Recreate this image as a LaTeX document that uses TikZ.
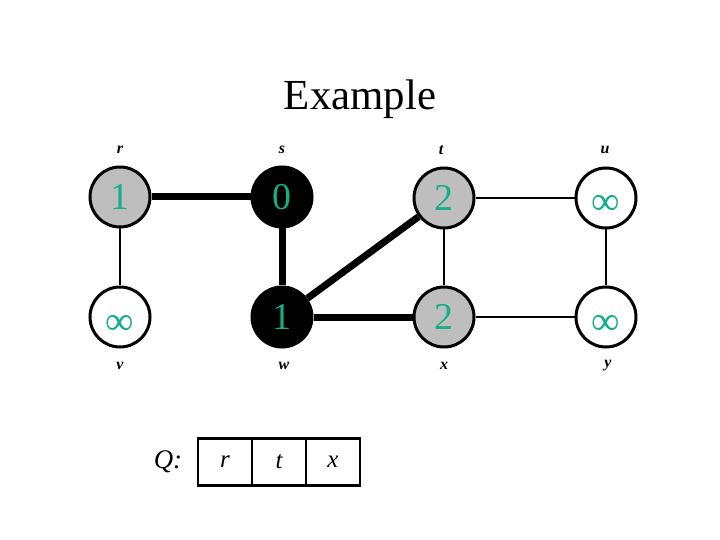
\documentclass[tikz,border=0pt]{standalone}
\usepackage{fontspec}
\setmainfont{Liberation Serif}
\definecolor{numcol}{RGB}{20,175,135}
\definecolor{nodegray}{RGB}{190,190,190}
\newcommand{\infsym}{\smash{\raisebox{-17bp}{\fontsize{40}{40}\selectfont ∞}}}
\tikzset{
  vert/.style={circle, draw=black, line width=3bp, minimum size=60bp, inner sep=0pt,
    text=numcol, font=\fontsize{38}{38}\selectfont},
  grayv/.style={vert, fill=nodegray},
  blackv/.style={vert, fill=black},
  whitev/.style={vert, fill=white},
  vlabel/.style={font=\fontsize{16}{16}\selectfont\bfseries\itshape},
  thickedge/.style={line width=7bp},
  thinedge/.style={line width=2bp},
  qcell/.style={draw=black, line width=2.5bp, minimum width=54bp, minimum height=47bp,
    inner sep=0pt, font=\fontsize{25}{25}\selectfont\itshape},
}
\begin{document}
\begin{tikzpicture}[x=1bp,y=-1bp]
\useasboundingbox (0,0) rectangle (720,540);
\node[font=\fontsize{43}{43}\selectfont] (title) at (360,99) {Example};
% vertices
\node[grayv]  (r) at (120,197) {1};
\node[blackv] (s) at (282,197) {0};
\node[grayv]  (t) at (444,198) {2};
\node[whitev] (u) at (606,198) {\infsym};
\node[whitev] (v) at (120,317) {\infsym};
\node[blackv] (w) at (282,317) {1};
\node[grayv]  (x) at (444,317) {2};
\node[whitev] (y) at (606,317) {\infsym};
% labels
\node[vlabel] (lr) at (120,150) {r};
\node[vlabel] (ls) at (282,150) {s};
\node[vlabel] (lt) at (441,150) {t};
\node[vlabel] (lu) at (605,150) {u};
\node[vlabel] (lv) at (120,366) {v};
\node[vlabel] (lw) at (284,366) {w};
\node[vlabel] (lx) at (444,366) {x};
\node[vlabel] (ly) at (608,366) {y};
% edges
\draw[thickedge] (r) -- (s);
\draw[thickedge] (s) -- (w);
\draw[thickedge] (w) -- (t);
\draw[thickedge] (w) -- (x);
\draw[thinedge] (r) -- (v);
\draw[thinedge] (t) -- (u);
\draw[thinedge] (t) -- (x);
\draw[thinedge] (u) -- (y);
\draw[thinedge] (x) -- (y);
% queue
\node[font=\fontsize{27}{27}\selectfont\itshape] (Q) at (168,462) {Q:};
\node[qcell] (q1) at (225,462) {r};
\node[qcell] (q2) at (279,462) {t};
\node[qcell] (q3) at (333,462) {x};
\end{tikzpicture}
\end{document}
